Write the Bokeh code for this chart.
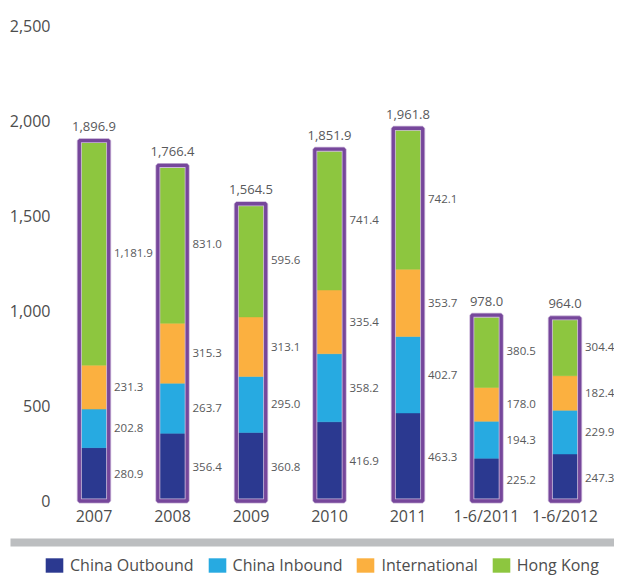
from bokeh.plotting import figure
from bokeh.models import (ColumnDataSource, FixedTicker, NumeralTickFormatter,
                          Legend, LegendItem, Range1d)
from bokeh.core.properties import value
from bokeh.embed import file_html
from bokeh.resources import INLINE

# ---- data ----
categories = ["2007", "2008", "2009", "2010", "2011", "1-6/2011", "1-6/2012"]
series_names = ["China Outbound", "China Inbound", "International", "Hong Kong"]
china_outbound = [280.9, 356.4, 360.8, 416.9, 463.3, 225.2, 247.3]
china_inbound = [202.8, 263.7, 295.0, 358.2, 402.7, 194.3, 229.9]
international = [231.3, 315.3, 313.1, 335.4, 353.7, 178.0, 182.4]
hong_kong = [1181.9, 831.0, 595.6, 741.4, 742.1, 380.5, 304.4]
totals = [1896.9, 1766.4, 1564.5, 1851.9, 1961.8, 978.0, 964.0]
y_ticks = [0, 500, 1000, 1500, 2000, 2500]

# ---- layout / styles ----
W, H = 614, 576            # canvas size (px)
X0, STEP = 93.5, 78.5      # pixel centre of first category, pixels per category
Y0, K = 500.5, 0.19        # pixel of value 0, pixels per unit


def px2x(px):
    return (px - X0) / STEP


def px2y(py):
    return (Y0 - py) / K


colors = ["#2B3990", "#27AAE1", "#FBB040", "#8DC63F"]
purple = "#76479B"
label_color = "#58595B"
axis_color = "#4D4D4D"
FONT = "Open Sans"
BAR_W = 29.4 / STEP

xpos = list(range(len(categories)))
keys = ["outbound", "inbound", "international", "hongkong"]
src = ColumnDataSource(dict(x=xpos, outbound=china_outbound, inbound=china_inbound,
                            international=international, hongkong=hong_kong, total=totals))

p = figure(x_range=Range1d(px2x(0), px2x(W)), y_range=Range1d(px2y(H), px2y(0)),
           width=W, height=H, output_backend="svg", toolbar_location=None,
           min_border=0)
p.outline_line_color = None
p.grid.visible = False

p.vbar_stack(keys, x="x", width=BAR_W, source=src, fill_color=colors,
             line_color=colors, line_width=0.5)
p.vbar(x="x", top="total", bottom=0, width=BAR_W, source=src, fill_color=None,
       line_color="#CDB9DA", line_width=5)
p.vbar(x="x", top="total", bottom=0, width=BAR_W, source=src, fill_color=None,
       line_color=purple, line_width=3.3)

# segment labels at segment midpoints
lx, ly, lt = [], [], []
for i in xpos:
    base = 0.0
    for arr in (china_outbound, china_inbound, international, hong_kong):
        v = arr[i]
        lx.append(i)
        ly.append(base + v / 2.0)
        lt.append(f"{v:,.1f}")
        base += v
lab_src = ColumnDataSource(dict(x=lx, y=ly, text=lt))
p.text(x="x", y="y", text="text", source=lab_src, x_offset=20, text_align="left",
       text_baseline="middle", text_font=value(FONT), text_font_size="11.5px",
       text_color=label_color)

tot_src = ColumnDataSource(dict(x=xpos, y=totals, text=[f"{v:,.1f}" for v in totals]))
p.text(x="x", y="y", text="text", source=tot_src, y_offset=-14, text_align="center",
       text_baseline="middle", text_font=value(FONT), text_font_size="13px",
       text_color=label_color)

# axes drawn inside the frame
for ax in (p.xaxis[0], p.yaxis[0]):
    ax.axis_line_color = None
    ax.major_tick_line_color = None
    ax.minor_tick_line_color = None
    ax.major_tick_out = 0
    ax.major_tick_in = 0
    ax.major_label_text_font = FONT
    ax.major_label_text_font_size = "16px"
    ax.major_label_text_color = axis_color

p.yaxis[0].ticker = FixedTicker(ticks=y_ticks)
p.yaxis[0].formatter = NumeralTickFormatter(format="0,0")
p.yaxis[0].major_label_standoff = 4
p.yaxis[0].fixed_location = px2x(54)

p.xaxis[0].ticker = FixedTicker(ticks=xpos)
p.xaxis[0].major_label_overrides = {i: c for i, c in zip(xpos, categories)}
p.xaxis[0].major_label_standoff = 4
p.xaxis[0].fixed_location = 0

# grey rule under the axis
p.quad(left=px2x(10), right=px2x(W + 5), top=px2y(538), bottom=px2y(546),
       fill_color="#BCBEC0", line_color=None)

# legend
items = []
for name, col in zip(series_names, colors):
    r = p.vbar(x=[0], top=[px2y(H + 50)], bottom=[px2y(H + 60)], width=0.1,
               fill_color=col, line_color=None)
    items.append(LegendItem(label=name, renderers=[r]))
legend = Legend(items=items, location=(43, 0), orientation="horizontal", padding=0,
                spacing=12, glyph_width=22, glyph_height=18, label_standoff=5,
                label_height=18, label_text_font=FONT, label_text_font_size="16px",
                label_text_color=axis_color, background_fill_alpha=0,
                border_line_color=None, margin=0)
p.add_layout(legend)

open("out.html", "w").write(file_html(p, INLINE))
